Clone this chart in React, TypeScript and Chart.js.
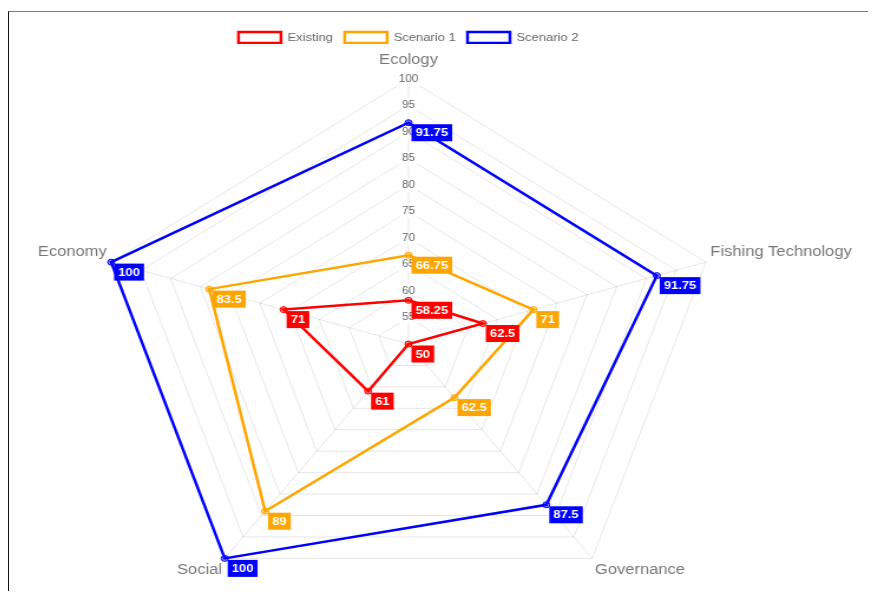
import React, { useEffect, useRef } from 'react';
import { Chart, registerables } from 'chart.js';

Chart.register(...registerables);

const categories = ['Ecology', 'Fishing Technology', 'Governance', 'Social', 'Economy'];
const existingValues = [58.25, 62.5, 50, 61, 71];
const scenario1Values = [66.75, 71, 62.5, 89, 83.5];
const scenario2Values = [91.75, 91.75, 87.5, 100, 100];
const seriesNames = ['Existing', 'Scenario 1', 'Scenario 2'];
const seriesColors = ['#ff0000', '#ffa500', '#0000ff'];
const seriesPointFill = ['rgba(255,0,0,0.45)', 'rgba(255,165,0,0.45)', 'rgba(0,0,255,0.45)'];
const scaleMin = 50;
const scaleMax = 100;
const scaleStep = 5;

const FONT = "'Liberation Sans', Arial, Helvetica, sans-serif";
const STRETCH = 1.18;
const W = 840;
const H = 614;

const boxLabelPlugin = {
  id: 'boxLabels',
  afterDatasetsDraw(chart: any) {
    const ctx = chart.ctx;
    ctx.save();
    ctx.font = `bold 11px ${FONT}`;
    ctx.textAlign = 'center';
    ctx.textBaseline = 'middle';
    chart.data.datasets.forEach((ds: any, di: number) => {
      const meta = chart.getDatasetMeta(di);
      if (meta.hidden) return;
      meta.data.forEach((el: any, i: number) => {
        const text = String(ds.data[i]);
        const w = ctx.measureText(text).width + 7;
        const h = 17;
        const x = el.x + 2.5;
        const y = el.y + 1.5;
        ctx.fillStyle = ds.borderColor;
        ctx.fillRect(x, y, w, h);
        ctx.fillStyle = '#ffffff';
        ctx.fillText(text, x + w / 2, y + h / 2 + 0.5);
      });
    });
    ctx.restore();
  },
};

export default function App() {
  const canvasRef = useRef<HTMLCanvasElement | null>(null);

  useEffect(() => {
    if (!canvasRef.current) return;
    Chart.defaults.font.family = FONT;
    const seriesData = [existingValues, scenario1Values, scenario2Values];
    const chart = new Chart(canvasRef.current, {
      type: 'radar',
      data: {
        labels: categories,
        datasets: seriesNames.map((name, i) => ({
          label: name,
          data: seriesData[i],
          borderColor: seriesColors[i],
          backgroundColor: 'rgba(0,0,0,0)',
          borderWidth: 2.5,
          fill: false,
          pointRadius: 3,
          pointBorderWidth: 1,
          pointBorderColor: seriesColors[i],
          pointBackgroundColor: seriesPointFill[i],
        })),
      },
      options: {
        responsive: false,
        animation: false,
        layout: { padding: { top: 10 } },
        plugins: {
          legend: {
            position: 'top',
            maxHeight: 22,
            labels: {
              boxWidth: 36,
              boxHeight: 11,
              padding: 10,
              color: '#666',
              font: { size: 11, family: FONT },
            },
          },
          tooltip: { enabled: false },
        },
        scales: {
          r: {
            min: scaleMin,
            max: scaleMax,
            ticks: {
              stepSize: scaleStep,
              color: '#666',
              font: { size: 10, family: FONT },
              backdropColor: 'rgba(255,255,255,0.75)',
            },
            pointLabels: {
              color: '#777',
              font: (ctx: any) => ({ size: 14, family: FONT, lineHeight: ctx.index === 0 ? 1.0 : 1.2 }),
              padding: (ctx: any) => (ctx.index === 0 ? 5 : -3),
            },
            grid: { color: 'rgba(0,0,0,0.1)' },
            angleLines: { color: 'rgba(0,0,0,0.1)' },
          },
        },
      } as any,
      plugins: [boxLabelPlugin],
    });
    return () => chart.destroy();
  }, []);

  return (
    <div style={{ position: 'relative', width: 868, height: 583, overflow: 'hidden' }}>
      <div
        style={{
          position: 'absolute',
          left: 0,
          top: 3,
          width: 900,
          height: 700,
          borderTop: '1px solid #7a7a7a',
          borderLeft: '1px solid #111',
        }}
      />
      <canvas
        ref={canvasRef}
        width={W}
        height={H}
        style={{
          position: 'absolute',
          left: -95.3,
          top: 4,
          width: `${W * STRETCH}px`,
          height: `${H}px`,
        }}
      />
    </div>
  );
}
